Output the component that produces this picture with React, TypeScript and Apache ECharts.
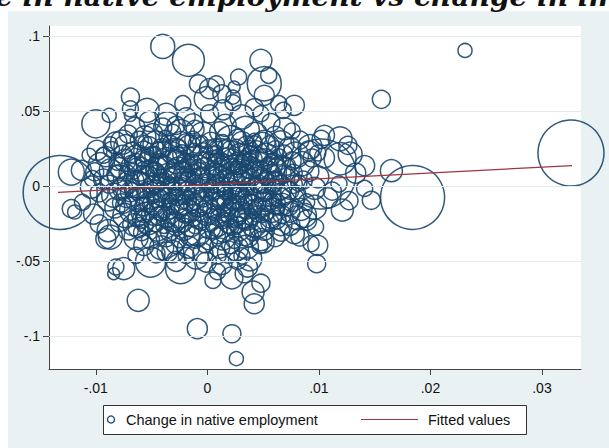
import React, { useEffect, useRef } from 'react';
import * as echarts from 'echarts';

const titleText = 'Change in native employment vs change in immigrant employment';
const titleHiddenPrefix = 'Chang';
const seriesNames = ['Change in native employment', 'Fitted values'];

const xTickValues = [-0.01, 0, 0.01, 0.02, 0.03];
const xTickLabels = ['-.01', '0', '.01', '.02', '.03'];
const yTickValues = [-0.1, -0.05, 0, 0.05, 0.1];
const yTickLabels = ['-.1', '-.05', '0', '.05', '.1'];

// [change in immigrant employment, change in native employment, weight]
const outerPoints = [
  [-0.0132, -0.0043, 1369], [0.0326, 0.022, 1089], [0.0184, -0.0076, 1024], [0.0231, 0.0904, 49],
  [0.0156, 0.0578, 81], [0.0165, 0.0102, 121], [0.0147, -0.0095, 81], [0.0141, 0.0136, 100],
  [0.0048, 0.0838, 121], [0.0055, 0.0738, 64], [0.0051, 0.0682, 289], [0.0028, 0.0727, 64],
  [0.0024, 0.066, 36], [0.0023, 0.0593, 49], [0.0051, 0.0605, 100], [0.0064, 0.0549, 64],
  [0.0078, 0.0538, 100], [0.0068, 0.0504, 64], [0.0048, 0.0482, 64], [0.0069, 0.0382, 121],
  [0.0105, 0.0338, 100], [0.0119, 0.0315, 144], [0.0126, 0.0271, 81], [0.0099, 0.022, 64],
  [0.0119, 0.0182, 256], [0.0102, 0.008, 1225], [-0.004, 0.0931, 144], [-0.0017, 0.0838, 256],
  [-0.0008, 0.0682, 81], [-0.0069, 0.0593, 81], [-0.0069, 0.0515, 64], [-0.0069, 0.0471, 36],
  [-0.0054, 0.0505, 144], [-0.01, 0.0415, 196], [-0.0088, 0.0471, 49], [-0.0022, 0.0549, 64],
  [0.0002, 0.0649, 100], [0.0008, 0.0682, 64], [-0.0001, 0.0582, 144], [0.0013, 0.0615, 81],
  [-0.0122, 0.0093, 169], [-0.0113, 0.0105, 100], [-0.0106, 0.0205, 49], [-0.0099, 0.0238, 100],
  [-0.0093, 0.0205, 64], [-0.0103, 0.0049, 64], [-0.0087, 0.0282, 49], [-0.0076, 0.0293, 144],
  [-0.0049, 0.0349, 100], [-0.004, 0.0393, 81], [-0.0028, 0.0405, 81], [-0.0024, 0.0349, 196],
  [-0.0013, 0.0415, 100], [0.0002, 0.0482, 81], [-0.0122, -0.0151, 81], [-0.0119, -0.0173, 49],
  [-0.0091, -0.0351, 100], [-0.0087, -0.034, 144], [-0.0082, -0.054, 64], [-0.0084, -0.0585, 36],
  [-0.0075, -0.0551, 121], [-0.0062, -0.0762, 121], [-0.0009, -0.0951, 100], [0.0022, -0.0985, 81],
  [0.0026, -0.1151, 49], [0.0005, -0.0629, 64], [-0.0051, -0.0507, 225], [-0.0024, -0.0551, 225],
  [-0.001, -0.0473, 144], [-0.0001, -0.0507, 100], [-0.0036, -0.044, 100], [-0.0064, -0.0462, 64],
  [0.0099, -0.0395, 100], [0.0098, -0.0518, 81], [0.0078, -0.0318, 100], [0.0083, -0.034, 81],
  [0.0042, -0.0785, 100], [0.0041, -0.0707, 121], [0.005, -0.0373, 121], [0.0036, -0.054, 100],
  [0.0033, -0.0585, 81], [0.0038, -0.0485, 144], [0.0026, -0.0418, 144], [0.0087, -0.0195, 144],
  [0.0074, -0.0262, 100], [0.0093, -0.0385, 64],
];

const corePoints = [
  [-0.0065, 0.0392, 100], [-0.0036, 0.0415, 144], [-0.0011, 0.0378, 81], [0.0016, 0.0404, 121], [0.0034, 0.0371, 196], [0.0057, 0.0423, 81],
  [-0.0071, 0.0346, 81], [-0.0056, 0.0327, 121], [-0.0031, 0.0358, 64], [-0.0004, 0.0339, 169], [0.0011, 0.0362, 100], [0.0027, 0.0318, 81], [0.0043, 0.0344, 144], [0.0061, 0.0331, 100], [0.0076, 0.0367, 64],
  [-0.0082, 0.0287, 121], [-0.0061, 0.0305, 81], [-0.0046, 0.0279, 169], [-0.0024, 0.0296, 100], [-0.0013, 0.0311, 64], [0.0003, 0.0284, 121], [0.0021, 0.0302, 225], [0.0035, 0.0273, 81], [0.0051, 0.0298, 121], [0.0066, 0.0281, 169], [0.0083, 0.0306, 81],
  [-0.0086, 0.0243, 64], [-0.0073, 0.0262, 144], [-0.0057, 0.0231, 100], [-0.0041, 0.0255, 81], [-0.0029, 0.0238, 144], [-0.0016, 0.0267, 121], [0.0001, 0.0246, 81], [0.0012, 0.0229, 169], [0.0026, 0.0258, 64], [0.0037, 0.0236, 100], [0.0049, 0.0264, 196], [0.0061, 0.0241, 81], [0.0074, 0.0253, 121], [0.0091, 0.0235, 100],
  [-0.0091, 0.0196, 100], [-0.0076, 0.0212, 81], [-0.0063, 0.0188, 169], [-0.0049, 0.0207, 64], [-0.0037, 0.0183, 121], [-0.0023, 0.0214, 81], [-0.0009, 0.0192, 144], [0.0006, 0.0209, 64], [0.0017, 0.0186, 100], [0.0029, 0.0203, 144], [0.0041, 0.0179, 81], [0.0053, 0.0211, 121], [0.0064, 0.0194, 64], [0.0079, 0.0206, 169], [0.0094, 0.0187, 81],
  [-0.0096, 0.0142, 144], [-0.0081, 0.0159, 64], [-0.0068, 0.0137, 100], [-0.0054, 0.0154, 121], [-0.0044, 0.0131, 81], [-0.0032, 0.0148, 196], [-0.0019, 0.0163, 64], [-0.0008, 0.0139, 100], [0.0005, 0.0156, 144], [0.0014, 0.0134, 81], [0.0027, 0.0151, 121], [0.0038, 0.0167, 64], [0.0046, 0.0138, 169], [0.0059, 0.0153, 100], [0.0071, 0.0132, 81], [0.0085, 0.0149, 144],
  [-0.0101, 0.0094, 81], [-0.0087, 0.0108, 121], [-0.0072, 0.0089, 64], [-0.0061, 0.0113, 144], [-0.0047, 0.0097, 81], [-0.0036, 0.0082, 100], [-0.0026, 0.0106, 169], [-0.0013, 0.0091, 64], [-0.0002, 0.0115, 121], [0.0009, 0.0086, 81], [0.0021, 0.0103, 144], [0.0032, 0.0088, 100], [0.0043, 0.0111, 64], [0.0054, 0.0093, 121], [0.0066, 0.0107, 196], [0.0077, 0.0084, 81], [0.0091, 0.0098, 100],
  [-0.0093, 0.0046, 100], [-0.0079, 0.0061, 144], [-0.0065, 0.0038, 81], [-0.0053, 0.0057, 121], [-0.0042, 0.0034, 64], [-0.0029, 0.0052, 144], [-0.0018, 0.0031, 81], [-0.0006, 0.0059, 100], [0.0004, 0.0042, 169], [0.0017, 0.0063, 64], [0.0028, 0.0036, 121], [0.0039, 0.0054, 81], [0.0048, 0.0029, 144], [0.0061, 0.0048, 64], [0.0073, 0.0062, 100], [0.0086, 0.0039, 81],
  [-0.0104, -0.0008, 121], [-0.0088, 0.0012, 81], [-0.0076, -0.0014, 100], [-0.0062, 0.0007, 169], [-0.0051, -0.0021, 64], [-0.0039, 0.0013, 121], [-0.0027, -0.0006, 81], [-0.0015, 0.0018, 144], [-0.0003, -0.0011, 100], [0.0008, 0.0009, 81], [0.0019, -0.0017, 121], [0.0031, 0.0014, 169], [0.0042, -0.0004, 64], [0.0052, 0.0021, 100], [0.0065, -0.0009, 144], [0.0077, 0.0011, 81], [0.0096, -0.0015, 121],
  [-0.0097, -0.0046, 81], [-0.0084, -0.0061, 144], [-0.0069, -0.0038, 100], [-0.0059, -0.0057, 81], [-0.0045, -0.0034, 121], [-0.0035, -0.0063, 64], [-0.0022, -0.0042, 144], [-0.0012, -0.0058, 100], [0.0001, -0.0036, 81], [0.0012, -0.0054, 144], [0.0022, -0.0031, 64], [0.0035, -0.0059, 121], [0.0044, -0.0041, 100], [0.0058, -0.0064, 81], [0.0068, -0.0037, 169], [0.0081, -0.0052, 64],
  [-0.0089, -0.0093, 121], [-0.0077, -0.0112, 81], [-0.0063, -0.0089, 144], [-0.0052, -0.0108, 100], [-0.0041, -0.0084, 64], [-0.0028, -0.0114, 121], [-0.0018, -0.0096, 81], [-0.0007, -0.0117, 169], [0.0007, -0.0091, 100], [0.0016, -0.0109, 64], [0.0029, -0.0086, 144], [0.0038, -0.0113, 81], [0.0052, -0.0095, 121], [0.0061, -0.0118, 100], [0.0076, -0.0088, 144], [0.0089, -0.0106, 64],
  [-0.0083, -0.0146, 100], [-0.0067, -0.0161, 169], [-0.0057, -0.0138, 81], [-0.0042, -0.0157, 121], [-0.0032, -0.0134, 64], [-0.0019, -0.0163, 144], [-0.0009, -0.0141, 100], [0.0004, -0.0159, 81], [0.0013, -0.0136, 121], [0.0026, -0.0152, 169], [0.0035, -0.0167, 64], [0.0048, -0.0144, 100], [0.0058, -0.0161, 144], [0.0073, -0.0139, 81], [0.0084, -0.0155, 121],
  [-0.0074, -0.0196, 144], [-0.0063, -0.0213, 81], [-0.0049, -0.0187, 121], [-0.0037, -0.0209, 100], [-0.0025, -0.0192, 169], [-0.0013, -0.0216, 64], [-0.0001, -0.0189, 121], [0.0011, -0.0211, 81], [0.0023, -0.0194, 144], [0.0032, -0.0218, 100], [0.0045, -0.0186, 64], [0.0057, -0.0207, 121], [0.0067, -0.0191, 81], [0.0081, -0.0212, 144],
  [-0.0079, -0.0244, 81], [-0.0066, -0.0259, 121], [-0.0053, -0.0237, 169], [-0.0039, -0.0262, 64], [-0.0029, -0.0241, 100], [-0.0015, -0.0258, 144], [-0.0005, -0.0236, 81], [0.0009, -0.0263, 121], [0.0019, -0.0247, 100], [0.0033, -0.0239, 64], [0.0042, -0.0261, 144], [0.0056, -0.0243, 81], [0.0066, -0.0257, 121],
  [-0.0071, -0.0293, 100], [-0.0059, -0.0311, 64], [-0.0045, -0.0287, 144], [-0.0034, -0.0306, 81], [-0.0021, -0.0289, 121], [-0.0009, -0.0314, 169], [0.0006, -0.0292, 81], [0.0015, -0.0309, 100], [0.0028, -0.0286, 144], [0.0041, -0.0312, 64], [0.0051, -0.0294, 100], [0.0066, -0.0308, 81],
  [-0.0064, -0.0343, 144], [-0.0051, -0.0361, 81], [-0.0037, -0.0338, 100], [-0.0025, -0.0357, 64], [-0.0011, -0.0341, 121], [0.0001, -0.0364, 81], [0.0014, -0.0346, 144], [0.0024, -0.0362, 64], [0.0037, -0.0339, 100], [0.0048, -0.0358, 121], [0.0061, -0.0344, 81],
  [-0.0057, -0.0396, 100], [-0.0041, -0.0412, 144], [-0.0029, -0.0389, 81], [-0.0017, -0.0408, 121], [-0.0002, -0.0393, 64], [0.0011, -0.0414, 100], [0.0021, -0.0391, 81], [0.0035, -0.0407, 144], [0.0047, -0.0398, 64],
  [-0.0046, -0.0452, 81], [-0.0031, -0.0438, 121], [-0.0019, -0.0463, 64], [-0.0004, -0.0447, 100], [0.0009, -0.0459, 81], [0.0019, -0.0441, 121], [0.0031, -0.0466, 64],
];

const innerPoints = [
  [-0.0052, 0.0268, 81], [-0.0019, 0.0281, 100], [0.0007, 0.0262, 64], [0.0031, 0.0289, 121], [0.0056, 0.0274, 81],
  [-0.0068, 0.0224, 100], [-0.0044, 0.0239, 64], [-0.0031, 0.0219, 121], [-0.0004, 0.0221, 100], [0.0021, 0.0242, 81], [0.0044, 0.0227, 121], [0.0069, 0.0219, 64],
  [-0.0074, 0.0171, 121], [-0.0058, 0.0183, 64], [-0.0027, 0.0176, 100], [-0.0001, 0.0168, 81], [0.0022, 0.0174, 121], [0.0034, 0.0159, 64], [0.0052, 0.0181, 100], [0.0076, 0.0168, 81],
  [-0.0079, 0.0123, 100], [-0.0052, 0.0119, 64], [-0.0039, 0.0128, 121], [-0.0017, 0.0121, 81], [0.0011, 0.0117, 100], [0.0028, 0.0127, 64], [0.0039, 0.0122, 121], [0.0062, 0.0126, 81],
  [-0.0082, 0.0078, 81], [-0.0057, 0.0072, 100], [-0.0031, 0.0076, 64], [-0.0008, 0.0081, 121], [0.0013, 0.0073, 81], [0.0026, 0.0079, 100], [0.0057, 0.0069, 121], [0.0068, 0.0081, 64],
  [-0.0071, 0.0024, 121], [-0.0046, 0.0017, 81], [-0.0021, 0.0027, 100], [0.0001, 0.0026, 64], [0.0024, 0.0019, 121], [0.0046, 0.0013, 81], [0.0059, 0.0028, 100], [0.0082, 0.0019, 64],
  [-0.0079, -0.0027, 100], [-0.0056, -0.0031, 64], [-0.0033, -0.0024, 121], [-0.0009, -0.0029, 81], [0.0006, -0.0022, 100], [0.0027, -0.0033, 64], [0.0051, -0.0026, 121], [0.0074, -0.0029, 81],
  [-0.0072, -0.0071, 121], [-0.0046, -0.0083, 81], [-0.0027, -0.0076, 64], [-0.0004, -0.0072, 100], [0.0024, -0.0081, 121], [0.0041, -0.0073, 64], [0.0066, -0.0079, 100],
  [-0.0075, -0.0128, 64], [-0.0049, -0.0121, 100], [-0.0023, -0.0127, 121], [0.0001, -0.0124, 81], [0.0021, -0.0131, 64], [0.0041, -0.0127, 100], [0.0067, -0.0122, 121],
  [-0.0056, -0.0176, 100], [-0.0041, -0.0183, 64], [-0.0016, -0.0172, 121], [0.0017, -0.0178, 81], [0.0029, -0.0171, 100], [0.0052, -0.0181, 64], [0.0074, -0.0174, 100],
  [-0.0059, -0.0222, 81], [-0.0032, -0.0228, 121], [-0.0008, -0.0219, 100], [0.0014, -0.0229, 64], [0.0036, -0.0221, 121], [0.0062, -0.0226, 81],
  [-0.0062, -0.0277, 100], [-0.0028, -0.0272, 81], [0.0002, -0.0279, 121], [0.0021, -0.0271, 64], [0.0047, -0.0276, 100],
  [-0.0044, -0.0322, 81], [-0.0016, -0.0327, 100], [0.0009, -0.0331, 64], [0.0033, -0.0324, 121],
];

const centralPoints = [
  [-0.0039, 0.0247, 64], [-0.0012, 0.0238, 49], [0.0017, 0.0251, 81], [0.0039, 0.0213, 64], [-0.0027, 0.0203, 81], [0.0009, 0.0197, 49], [0.0046, 0.0196, 81], [-0.0054, 0.0199, 49],
  [-0.0043, 0.0162, 64], [-0.0014, 0.0152, 81], [0.0007, 0.0171, 49], [0.0031, 0.0143, 81], [0.0055, 0.0139, 64], [-0.0029, 0.0131, 49], [0.0019, 0.0144, 64], [-0.0064, 0.0156, 81],
  [-0.0048, 0.0112, 64], [-0.0021, 0.0098, 81], [0.0004, 0.0102, 49], [0.0027, 0.0113, 64], [0.0048, 0.0102, 81], [-0.0008, 0.0124, 64], [0.0036, 0.0097, 49], [-0.0067, 0.0097, 64],
  [-0.0045, 0.0079, 81], [-0.0017, 0.0071, 49], [0.0007, 0.0056, 64], [0.0032, 0.0067, 81], [0.0053, 0.0057, 49], [-0.0036, 0.0046, 64], [0.0019, 0.0049, 81], [-0.0061, 0.0053, 49],
  [-0.0049, 0.0006, 81], [-0.0023, 0.0009, 49], [-0.0009, 0.0003, 64], [0.0013, 0.0001, 81], [0.0036, 0.0007, 49], [0.0058, -0.0002, 64], [-0.0032, -0.0012, 64], [0.0025, -0.0007, 49],
  [-0.0041, -0.0049, 64], [-0.0018, -0.0031, 81], [0.0005, -0.0051, 49], [0.0029, -0.0046, 81], [0.0052, -0.0047, 64], [-0.0063, -0.0048, 49], [0.0016, -0.0038, 64], [-0.0028, -0.0054, 49],
  [-0.0056, -0.0096, 81], [-0.0034, -0.0091, 49], [-0.0011, -0.0103, 64], [0.0012, -0.0095, 81], [0.0034, -0.0099, 49], [0.0057, -0.0103, 64], [-0.0022, -0.0108, 49], [0.0023, -0.0112, 64],
  [-0.0047, -0.0143, 64], [-0.0026, -0.0151, 81], [-0.0003, -0.0146, 49], [0.0019, -0.0149, 64], [0.0041, -0.0152, 81], [0.0063, -0.0146, 49], [-0.0014, -0.0129, 64], [0.0031, -0.0135, 49],
  [-0.0044, -0.0201, 81], [-0.0021, -0.0199, 49], [0.0004, -0.0203, 64], [0.0027, -0.0207, 81], [0.0049, -0.0198, 49], [-0.0061, -0.0181, 64], [0.0016, -0.0191, 49],
  [-0.0046, -0.0251, 64], [-0.0022, -0.0248, 81], [0.0004, -0.0252, 49], [0.0027, -0.0258, 64], [0.0049, -0.0247, 81],
  [-0.0033, 0.0284, 64], [-0.0009, 0.0279, 81], [0.0014, 0.0296, 49], [0.0042, 0.0281, 64], [-0.0056, 0.0291, 49],
];

const denseCentrePoints = [
  [-0.0047, 0.0224, 36], [-0.0021, 0.0171, 49], [0.0008, 0.0233, 36], [0.0033, 0.0188, 49], [-0.0058, 0.0122, 36],
  [-0.0011, 0.0066, 49], [0.0024, 0.0122, 36], [0.0049, 0.0078, 49], [-0.0034, 0.0019, 36], [0.0003, 0.0014, 25],
  [0.0036, -0.0019, 49], [-0.0049, -0.0076, 36], [-0.0016, -0.0083, 49], [0.0019, -0.0069, 36], [0.0046, -0.0124, 49],
  [-0.0033, -0.0177, 36], [0.0006, -0.0181, 49], [0.0039, -0.0226, 36], [-0.0041, 0.0063, 49], [0.0014, 0.0178, 36],
  [-0.0026, 0.0267, 49], [0.0058, 0.0173, 36], [-0.0068, -0.0023, 49], [0.0061, -0.0092, 36], [-0.0011, -0.0271, 49],
  [0.0026, -0.0283, 36], [-0.0055, -0.0268, 49], [-0.0005, 0.0297, 36], [0.0042, 0.0304, 49], [-0.0038, 0.0331, 36],
];

const fringePoints = [
  [0.0092, 0.0262, 144], [0.0105, 0.0188, 100], [0.0099, 0.0061, 121], [0.0112, -0.0034, 81], [0.0096, -0.0141, 144],
  [0.0108, -0.0079, 100], [0.0118, 0.0013, 64], [0.0127, -0.0097, 81], [0.0121, -0.0161, 121], [0.0133, 0.0086, 100],
  [0.0102, 0.0311, 81], [0.0089, -0.0228, 100], [0.0097, -0.0274, 64], [0.0128, 0.0212, 144], [0.0141, -0.0016, 64],
  [-0.0037, 0.0478, 121], [-0.0019, 0.0462, 81], [0.0014, 0.0508, 100], [0.0031, 0.0461, 144], [0.0042, 0.0522, 81],
  [-0.0052, 0.0431, 100], [0.0023, 0.0555, 64], [0.0013, -0.0523, 100], [0.0027, -0.0496, 81], [0.0022, -0.0612, 121],
  [0.0009, -0.0571, 64], [-0.0028, -0.0502, 100], [0.0048, -0.0648, 81], [-0.0102, -0.0187, 100], [-0.0097, -0.0252, 81],
  [-0.0112, -0.0108, 64], [-0.0089, -0.0298, 121],
];

const fittedX = [-0.0134, 0.0327];
const fittedY = [-0.0042, 0.0136];

const NAVY = '#1a476f';
const MAROON = '#a3333c';
const PANEL = '#eaf1f3';
const GRID = '#e2eaed';

function tickLabel(values: number[], labels: string[], v: number) {
  for (let i = 0; i < values.length; i++) {
    if (Math.abs(values[i] - v) < 1e-9) return labels[i];
  }
  return '';
}

export default function App() {
  const ref = useRef<HTMLDivElement>(null);
  useEffect(() => {
    document.body.style.margin = '0';
    if (!ref.current) return;
    const chart = echarts.init(ref.current, undefined, { renderer: 'svg' });

    const titleSize = 28;
    const titleFont = `italic bold ${titleSize}px "DejaVu Serif"`;
    let prefixW = 80;
    try {
      const c = document.createElement('canvas').getContext('2d');
      if (c) {
        c.font = titleFont;
        prefixW = c.measureText(titleHiddenPrefix).width;
      }
    } catch (e) {}

    const allPoints = [...outerPoints, ...corePoints, ...innerPoints, ...centralPoints, ...denseCentrePoints, ...fringePoints];
    const legendY = 419.5;

    chart.setOption({
      animation: false,
      backgroundColor: '#ffffff',
      grid: { left: 49, top: 26, width: 532, height: 343, show: true, backgroundColor: '#ffffff', borderWidth: 0 },
      xAxis: {
        type: 'value',
        min: -0.0142,
        max: 0.0335,
        axisLine: { show: true, onZero: false, lineStyle: { color: '#444', width: 1 } },
        axisTick: { show: true, length: 6, customValues: xTickValues, lineStyle: { color: '#444' } },
        axisLabel: {
          customValues: xTickValues,
          margin: 12,
          fontSize: 14,
          color: '#111',
          fontFamily: 'Liberation Sans',
          formatter: (v: number) => tickLabel(xTickValues, xTickLabels, v),
        },
        splitLine: { show: false },
      },
      yAxis: {
        type: 'value',
        min: -0.122,
        max: 0.1067,
        axisLine: { show: true, onZero: false, lineStyle: { color: '#444', width: 1 } },
        axisTick: { show: true, length: 6, customValues: yTickValues, lineStyle: { color: '#444' } },
        axisLabel: {
          customValues: yTickValues,
          margin: 9,
          fontSize: 14,
          color: '#111',
          fontFamily: 'Liberation Sans',
          formatter: (v: number) => tickLabel(yTickValues, yTickLabels, v),
        },
        splitLine: { show: false },
      },
      series: [
        {
          type: 'line',
          name: 'grid',
          data: [],
          z: 1,
          silent: true,
          markLine: {
            silent: true,
            symbol: ['none', 'none'],
            label: { show: false },
            lineStyle: { color: GRID, width: 1, type: 'solid' },
            data: yTickValues.map((v) => ({ yAxis: v })),
          },
        },
        {
          type: 'scatter',
          name: seriesNames[0],
          z: 2,
          clip: false,
          data: allPoints,
          symbol: 'circle',
          symbolSize: (val: number[]) => 2 * Math.sqrt(val[2]),
          itemStyle: { color: 'rgba(0,0,0,0)', borderColor: NAVY, borderWidth: 1.5, opacity: 0.9 },
          emphasis: { disabled: true },
        },
        {
          type: 'line',
          name: seriesNames[1],
          z: 3,
          data: fittedX.map((x, i) => [x, fittedY[i]]),
          symbol: 'none',
          lineStyle: { color: MAROON, width: 1.3 },
        },
      ],
      graphic: [
        { type: 'rect', z: -10, silent: true, shape: { x: 8, y: 11, width: 601, height: 437 }, style: { fill: PANEL } },
        {
          type: 'text',
          x: -prefixW - 5,
          y: 6 - 0.84 * titleSize,
          style: { text: titleText, font: titleFont, fill: '#111', verticalAlign: 'top', align: 'left' },
        },
        { type: 'rect', z: 10, shape: { x: 103.5, y: 405.5, width: 423, height: 29 }, style: { fill: '#fff', stroke: '#333', lineWidth: 1 } },
        { type: 'circle', z: 11, shape: { cx: 111, cy: legendY, r: 3.5 }, style: { fill: 'none', stroke: NAVY, lineWidth: 1.3 } },
        { type: 'text', z: 11, x: 126, y: legendY, style: { text: seriesNames[0], font: '14.5px "Liberation Sans"', fill: '#111', verticalAlign: 'middle' } },
        { type: 'line', z: 11, shape: { x1: 361, y1: legendY, x2: 418, y2: legendY }, style: { stroke: MAROON, lineWidth: 1.2 } },
        { type: 'text', z: 11, x: 428, y: legendY, style: { text: seriesNames[1], font: '14.5px "Liberation Sans"', fill: '#111', verticalAlign: 'middle' } },
      ],
    });
    return () => chart.dispose();
  }, []);
  return <div ref={ref} style={{ position: 'fixed', left: 0, top: 0, width: 609, height: 448 }} />;
}
